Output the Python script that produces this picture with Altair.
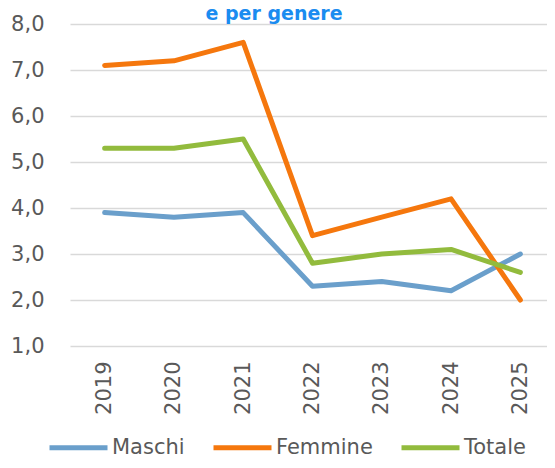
import altair as alt
import pandas as pd

years = ["2019", "2020", "2021", "2022", "2023", "2024", "2025"]
maschi = [3.9, 3.8, 3.9, 2.3, 2.4, 2.2, 3.0]
femmine = [7.1, 7.2, 7.6, 3.4, 3.8, 4.2, 2.0]
totale = [5.3, 5.3, 5.5, 2.8, 3.0, 3.1, 2.6]
series = ["Maschi", "Femmine", "Totale"]
colors = ["#6a9fcb", "#f5770d", "#92bb3d"]
y_ticks = [1, 2, 3, 4, 5, 6, 7, 8]
title_text = ["e per genere"]

rows = []
for name, vals in zip(series, [maschi, femmine, totale]):
    for yr, v in zip(years, vals):
        rows.append({"Anno": yr, "Serie": name, "Valore": v})
df = pd.DataFrame(rows)
tdf = pd.DataFrame({"t": title_text})

FONT = "DejaVu Sans"
GREY = "#595959"

lines = alt.Chart(df).mark_line(strokeWidth=5, strokeCap="round", strokeJoin="round").encode(
    x=alt.X("Anno:O", sort=years,
            scale=alt.Scale(type="point", padding=0.5),
            axis=alt.Axis(title=None, labelAngle=270, ticks=False, domain=False, grid=False,
                          labelFontSize=21, labelFont=FONT, labelColor=GREY, labelPadding=15)),
    y=alt.Y("Valore:Q", scale=alt.Scale(domain=[1, 8], nice=False, zero=False),
            axis=alt.Axis(title=None, values=y_ticks, ticks=False, domain=False, grid=True,
                          gridColor="#d9d9d9", gridWidth=1.5,
                          labelExpr="replace(format(datum.value, '.1f'), '.', ',')",
                          labelFontSize=21, labelFont=FONT, labelColor=GREY, labelPadding=26)),
    color=alt.Color("Serie:N", sort=series,
                    scale=alt.Scale(domain=series, range=colors),
                    legend=alt.Legend(orient="none", direction="horizontal", legendX=-23, legendY=392,
                                      title=None, symbolType="stroke", symbolSize=3364,
                                      symbolStrokeWidth=5, labelFontSize=21, labelFont=FONT,
                                      labelColor=GREY, labelOffset=2, columnPadding=18,
                                      labelLimit=0)),
)

title = alt.Chart(tdf).mark_text(font=FONT, fontSize=19, fontWeight="bold", color="#1a8cf0",
                                 baseline="alphabetic", align="center").encode(
    text="t:N", x=alt.value(204), y=alt.value(-4))

chart = alt.layer(lines, title).properties(
    width=485, height=322,
    padding={"left": 62, "top": 16, "right": -8, "bottom": 108},
    autosize="none",
).configure_view(stroke=None)

chart.save("out.html", embed_options={"renderer": "svg", "actions": False})
